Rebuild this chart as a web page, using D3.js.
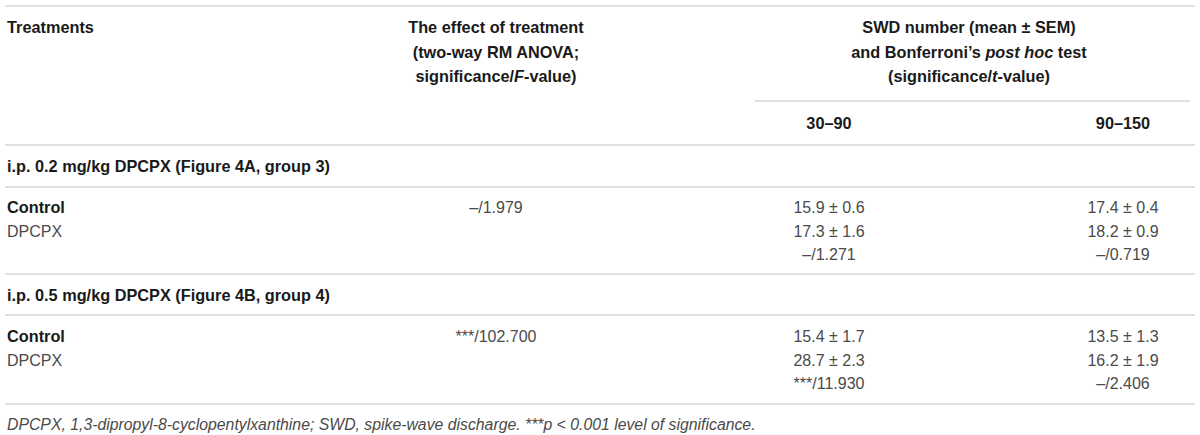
<!DOCTYPE html>
<html>
<head>
<meta charset="utf-8">
<script src="https://cdn.jsdelivr.net/npm/d3@7"></script>
<style>
  body { margin: 0; background: #fff; }
  svg text { font-family: "Liberation Sans", Arial, sans-serif; }
  .hd { font-weight: 700; fill: #1a1a1a; font-size: 16.3px; }
  .bd { font-weight: 400; fill: #4a4a4a; font-size: 16px; }
  .fn { font-weight: 400; fill: #4a4a4a; font-size: 15.8px; font-style: italic; }
</style>
</head>
<body>
<svg id="chart" width="1200" height="435"></svg>
<script>
	/* table content */
	var groups = ["i.p. 0.2 mg/kg DPCPX (Figure 4A, group 3)", "i.p. 0.5 mg/kg DPCPX (Figure 4B, group 4)"],
		treatments = ["Control", "DPCPX"],
		intervals = ["30\u201390", "90\u2013150"];

	var anovaSig = ["\u2013", "***"],
		anovaF = ["1.979", "102.700"];

	var controlMean30 = [15.9, 15.4], controlSem30 = [0.6, 1.7],
		dpcpxMean30 = [17.3, 28.7], dpcpxSem30 = [1.6, 2.3],
		controlMean90 = [17.4, 13.5], controlSem90 = [0.4, 1.3],
		dpcpxMean90 = [18.2, 16.2], dpcpxSem90 = [0.9, 1.9];

	var tSig30 = ["\u2013", "***"], tVal30 = ["1.271", "11.930"],
		tSig90 = ["\u2013", "\u2013"], tVal90 = ["0.719", "2.406"];

	var footnote = "DPCPX, 1,3-dipropyl-8-cyclopentylxanthine; SWD, spike-wave discharge. ***p < 0.001 level of significance.";

	var svg = d3.select("#chart");

	/* column positions */
	var col = d3.scaleOrdinal()
		.domain(["treat", "effect", "i0", "i1", "span"])
		.range([7, 496, 829, 1123, 969]);

	/* row positions (text centres) */
	var rowY = d3.scaleOrdinal()
		.domain(["h1", "h2", "h3", "sub", "g0", "c0", "d0", "t0", "g1", "c1", "d1", "t1", "fn"])
		.range([27, 52, 76, 123, 166, 207, 231, 254, 295, 336, 360, 383, 424]);

	var rules = [6, 145, 187, 274, 315, 404];

	svg.selectAll("line.rule")
		.data(rules)
		.enter().append("line")
		.attr("class", "rule")
		.attr("x1", 5).attr("x2", 1195)
		.attr("y1", function (d) { return d }).attr("y2", function (d) { return d })
		.attr("stroke", "#d6d6d6").attr("stroke-width", 1.5);

	/* rule under the spanning header */
	svg.append("line")
		.attr("x1", 755).attr("x2", 1190)
		.attr("y1", 101).attr("y2", 101)
		.attr("stroke", "#d6d6d6").attr("stroke-width", 1.5);

	function addText(cls, x, y, anchor, parts) {
		var t = svg.append("text")
			.attr("class", cls)
			.attr("x", x).attr("y", y)
			.attr("dy", "0.35em")
			.attr("text-anchor", anchor);
		if (typeof parts === "string") parts = [[parts]];
		parts.forEach(function (p) {
			t.append("tspan").text(p[0]).style("font-style", p[1] ? "italic" : null);
		});
		return t;
	}

	/* header */
	addText("hd", col("treat"), rowY("h1"), "start", "Treatments");
	addText("hd", col("effect"), rowY("h1"), "middle", "The effect of treatment");
	addText("hd", col("effect"), rowY("h2"), "middle", "(two-way RM ANOVA;");
	addText("hd", col("effect"), rowY("h3"), "middle", [["significance/"], ["F", true], ["-value)"]]);
	addText("hd", col("span"), rowY("h1"), "middle", "SWD number (mean \u00b1 SEM)");
	addText("hd", col("span"), rowY("h2"), "middle", [["and Bonferroni\u2019s "], ["post hoc", true], [" test"]]);
	addText("hd", col("span"), rowY("h3"), "middle", [["(significance/"], ["t", true], ["-value)"]]);
	intervals.forEach(function (d, i) {
		addText("hd", col("i" + i), rowY("sub"), "middle", d);
	});

	function ms(m, s) { return m.toFixed(1) + " \u00b1 " + s.toFixed(1) }

	/* body */
	groups.forEach(function (g, i) {
		addText("hd", col("treat"), rowY("g" + i), "start", g);
		addText("hd", col("treat"), rowY("c" + i), "start", treatments[0]);
		addText("bd", col("treat"), rowY("d" + i), "start", treatments[1]);
		addText("bd", col("effect"), rowY("c" + i), "middle", anovaSig[i] + "/" + anovaF[i]);

		addText("bd", col("i0"), rowY("c" + i), "middle", ms(controlMean30[i], controlSem30[i]));
		addText("bd", col("i0"), rowY("d" + i), "middle", ms(dpcpxMean30[i], dpcpxSem30[i]));
		addText("bd", col("i0"), rowY("t" + i), "middle", tSig30[i] + "/" + tVal30[i]);

		addText("bd", col("i1"), rowY("c" + i), "middle", ms(controlMean90[i], controlSem90[i]));
		addText("bd", col("i1"), rowY("d" + i), "middle", ms(dpcpxMean90[i], dpcpxSem90[i]));
		addText("bd", col("i1"), rowY("t" + i), "middle", tSig90[i] + "/" + tVal90[i]);
	});

	addText("fn", col("treat"), rowY("fn"), "start", footnote);
</script>
</body>
</html>
